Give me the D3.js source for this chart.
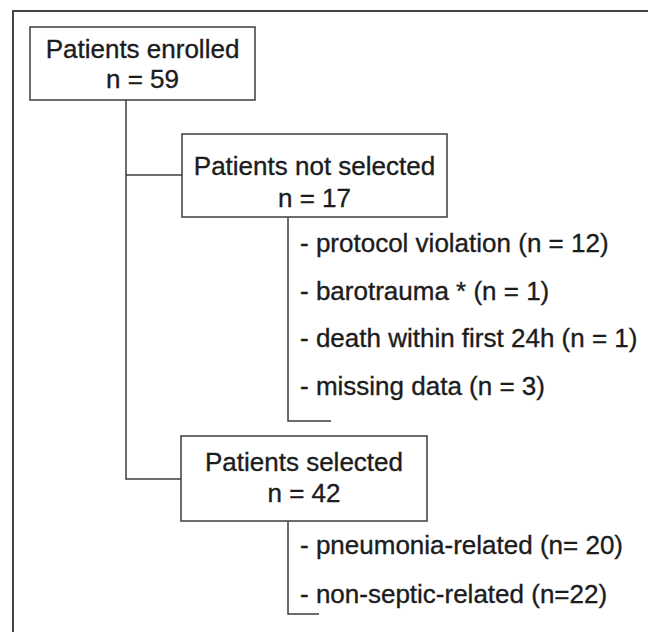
<!DOCTYPE html>
<html>
<head>
<meta charset="utf-8">
<script src="https://cdn.jsdelivr.net/npm/d3@7"></script>
<style>
  html, body { margin: 0; padding: 0; background: #fff; }
  svg { display: block; }
  text { font-family: "Liberation Sans", Arial, sans-serif; fill: #1c1c1c; stroke: #1c1c1c; stroke-width: 0.35px; }
</style>
</head>
<body>
<svg id="chart" width="648" height="632"></svg>
<script>
// ---- data ----
const boxTitles = ["Patients enrolled", "Patients not selected", "Patients selected"];
const boxCounts = [59, 17, 42];
const excludedReasons = ["- protocol violation (n = 12)", "- barotrauma * (n = 1)", "- death within first 24h (n = 1)", "- missing data (n = 3)"];
const selectedGroups = ["- pneumonia-related (n= 20)", "- non-septic-related (n=22)"];

// ---- layout ----
const svg = d3.select("#chart");
const stroke = "#3c3c3c";
const sw = 1.5;

// outer frame (cropped on right and bottom)
svg.append("path")
  .attr("d", "M13,640 L13,11 L660,11")
  .attr("fill", "none").attr("stroke", "#444").attr("stroke-width", 2);

const boxes = [
  {x: 30, y: 27, w: 225, h: 73, l1: 58, l2: 88},
  {x: 182, y: 134, w: 265, h: 83, l1: 175, l2: 207},
  {x: 181, y: 436, w: 246, h: 85, l1: 471, l2: 502}
].map((b, i) => Object.assign(b, {title: boxTitles[i], n: boxCounts[i]}));

// connectors
const line = d3.line();
const connectors = [
  [[126, 100], [126, 479], [181, 479]],
  [[126, 175], [182, 175]],
  [[288, 217], [288, 421], [331, 421]],
  [[288, 521], [288, 614], [319, 614]]
];
svg.selectAll("path.conn").data(connectors).join("path")
  .attr("class", "conn")
  .attr("d", d => line(d))
  .attr("fill", "none").attr("stroke", stroke).attr("stroke-width", sw);

const g = svg.selectAll("g.box").data(boxes).join("g").attr("class", "box");
g.append("rect")
  .attr("x", d => d.x).attr("y", d => d.y)
  .attr("width", d => d.w).attr("height", d => d.h)
  .attr("fill", "#fff").attr("stroke", stroke).attr("stroke-width", sw);
g.append("text")
  .attr("x", d => d.x + d.w / 2).attr("y", d => d.l1)
  .attr("text-anchor", "middle").attr("font-size", 26)
  .text(d => d.title);
g.append("text")
  .attr("x", d => d.x + d.w / 2).attr("y", d => d.l2)
  .attr("text-anchor", "middle").attr("font-size", 26)
  .text(d => "n = " + d.n);

// list items
const y1 = d3.scalePoint().domain(excludedReasons).range([252, 395]);
svg.selectAll("text.ex").data(excludedReasons).join("text")
  .attr("class", "ex")
  .attr("x", 300).attr("y", d => y1(d))
  .attr("font-size", 26)
  .text(d => d);

const y2 = d3.scalePoint().domain(selectedGroups).range([554, 603]);
svg.selectAll("text.sel").data(selectedGroups).join("text")
  .attr("class", "sel")
  .attr("x", 300).attr("y", d => y2(d))
  .attr("font-size", 26)
  .text(d => d);
</script>
</body>
</html>
